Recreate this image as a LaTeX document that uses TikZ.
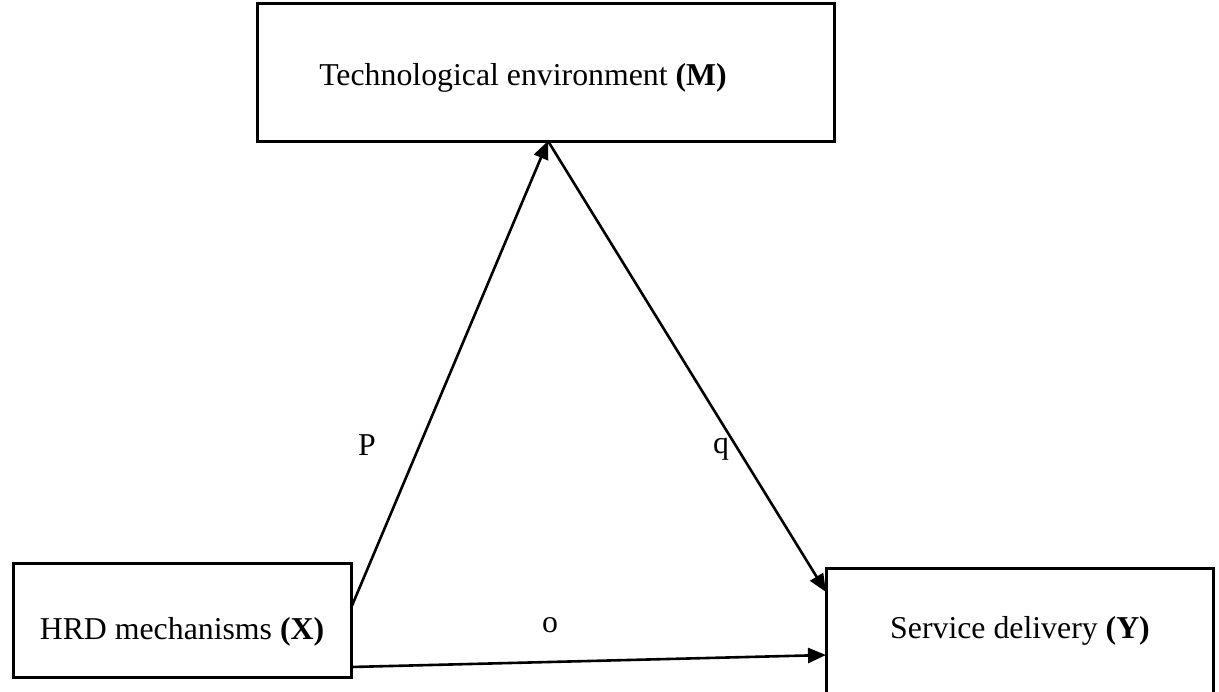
\documentclass[tikz,border=0pt]{standalone}
\usepackage{fontspec}
\setmainfont{Liberation Serif}
\usetikzlibrary{arrows.meta}

\begin{document}
\begin{tikzpicture}[x=0.5pt, y=-0.5pt,
  box/.style={draw, line width=1.5pt, inner sep=0pt, outer sep=0pt, anchor=north west},
  link/.style={line width=1.3pt, -{Triangle[length=9pt,width=7.5pt]}},
  lbl/.style={anchor=base, inner sep=0pt, font=\fontsize{15.9}{19}\selectfont}]
% Drawing area
\useasboundingbox (0,0) rectangle (1219,691);
\clip (0,0) rectangle (1219,691);

% Drawing boxes
\node[box, minimum width=288.5pt, minimum height=69pt] (boxM) at (257,3) {};
\node[box, minimum width=169pt, minimum height=57pt] (boxX) at (13,563) {};
\node[box, minimum width=193.5pt, minimum height=70pt] (boxY) at (826,568) {};

% Box texts
\node[lbl] (textM) at (523,85) {Technological environment \textbf{(M)}};
\node[lbl] (textX) at (182,639) {HRD mechanisms \textbf{(X)}};
\node[lbl] (textY) at (1020,638) {Service delivery \textbf{(Y)}};

% Arrow end points
\coordinate (xP) at ([yshift=6pt]boxX.east);
\coordinate (xO) at ([yshift=-23.5pt]boxX.east);
\coordinate (mTip) at ([xshift=1.25pt]boxM.south);
\coordinate (yQ) at ([yshift=23pt]boxY.west);
\coordinate (yO) at ([yshift=-8.5pt]boxY.west);

% Drawing paths
\draw[link] (xP) -- (mTip);
\draw[link] (mTip) -- (yQ);
\draw[link] (xO) -- (yO);

% Path labels
\node[lbl] (labP) at (367,455) {P};
\node[lbl] (labQ) at (721,453) {q};
\node[lbl] (labO) at (550,632) {o};
\end{tikzpicture}
\end{document}
